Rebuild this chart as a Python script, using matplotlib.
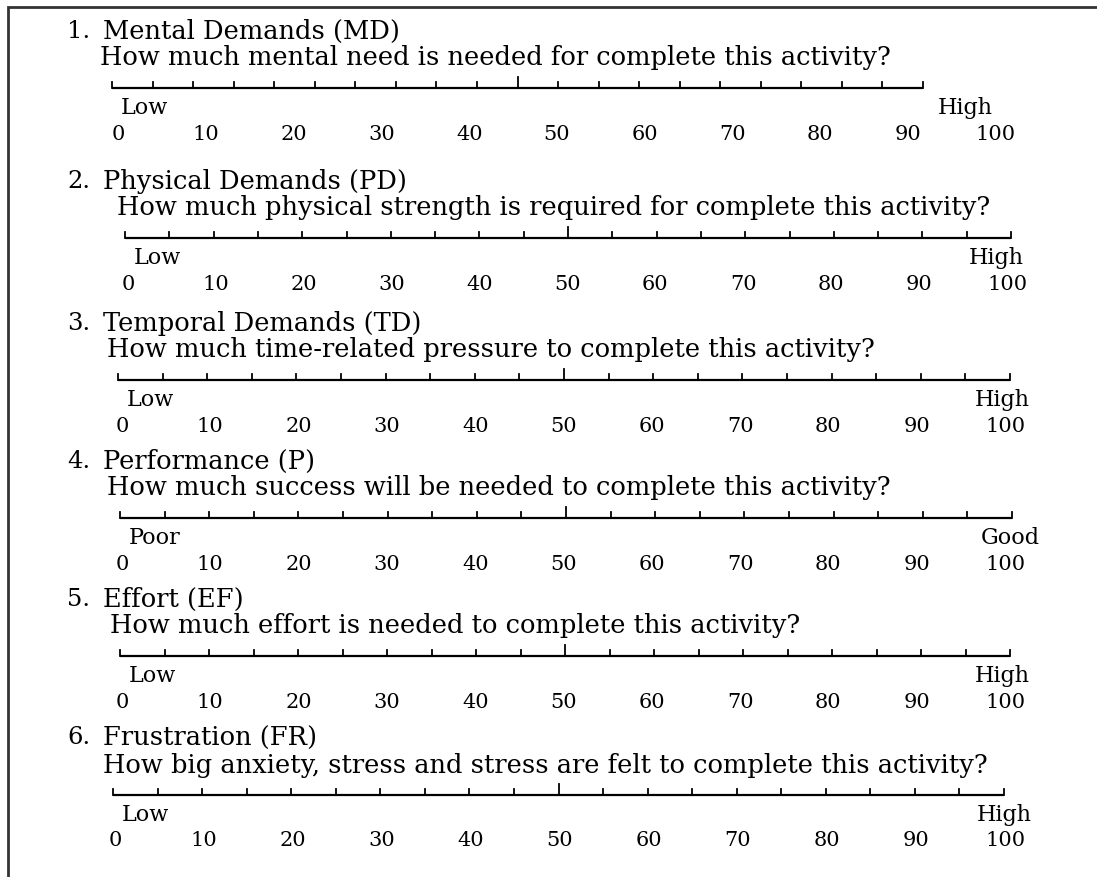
import matplotlib.pyplot as plt

# questionnaire content
item_nums = ["1.", "2.", "3.", "4.", "5.", "6."]
item_names = ["Mental Demands (MD)", "Physical Demands (PD)", "Temporal Demands (TD)",
              "Performance (P)", "Effort (EF)", "Frustration (FR)"]
questions = [
    "How much mental need is needed for complete this activity?",
    "How much physical strength is required for complete this activity?",
    "How much time-related pressure to complete this activity?",
    "How much success will be needed to complete this activity?",
    "How much effort is needed to complete this activity?",
    "How big anxiety, stress and stress are felt to complete this activity?",
]
low_labels = ["Low", "Low", "Low", "Poor", "Low", "Low"]
high_labels = ["High", "High", "High", "Good", "High", "High"]
tick_values = [0, 5, 10, 15, 20, 25, 30, 35, 40, 45, 50,
               55, 60, 65, 70, 75, 80, 85, 90, 95, 100]
number_labels = [0, 10, 20, 30, 40, 50, 60, 70, 80, 90, 100]

# layout (pixel coords of the form)
W, H = 1097, 877
ruler_y = [88, 238, 380, 518, 656, 795]
ruler_x = [(112, 923), (125, 1011), (118, 1010), (120, 1012), (120, 1010), (113, 1004)]
num_x = [(118, 996), (128, 1007), (122, 1005), (122, 1005), (122, 1005), (115, 1005)]
high_right = [993, 1024, 1030, 1040, 1030, 1032]
question_x = [100, 117, 107, 107, 110, 103]

plt.rcParams["font.family"] = ["DejaVu Serif"]
fs = 18.5

fig = plt.figure(figsize=(W / 100, H / 100), dpi=100)
ax = fig.add_axes([0, 0, 1, 1])
ax.set_xlim(0, W)
ax.set_ylim(H, 0)
ax.axis("off")

# frame (top and left edges)
ax.plot([8, 8, W], [H, 7, 7], color="#333333", lw=2, solid_joinstyle="miter")

for i in range(len(item_names)):
    y = ruler_y[i]
    x0, x1 = ruler_x[i]
    ax.text(67, y - 57, item_nums[i], fontsize=fs - 1, va="center", ha="left")
    ax.text(103, y - 57, item_names[i], fontsize=fs, va="center", ha="left")
    ax.text(question_x[i], y - 30, questions[i], fontsize=fs, va="center", ha="left")

    # ruler
    ax.plot([x0, x1], [y, y], color="black", lw=1.6, solid_capstyle="butt")
    for v in tick_values:
        tx = x0 + v / 100 * (x1 - x0)
        h = 11 if v == 50 else 6
        ax.plot([tx, tx], [y, y - h], color="black", lw=1.3)

    ax.text(x0 + 9, y + 20, low_labels[i], fontsize=16, va="center", ha="left")
    ax.text(high_right[i], y + 20, high_labels[i], fontsize=16, va="center", ha="right")

    n0, n1 = num_x[i]
    for v in number_labels:
        nx = n0 + v / 100 * (n1 - n0)
        ax.text(nx, y + 46, str(v), fontsize=15, va="center", ha="center")

fig.savefig("out.png", dpi=100)
